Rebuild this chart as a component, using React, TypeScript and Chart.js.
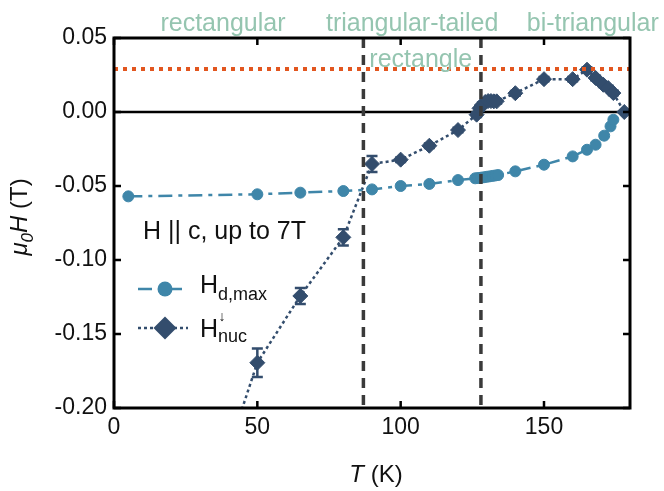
import React, { useEffect, useRef } from 'react';
import { Chart, registerables } from 'chart.js';
Chart.register(...registerables);

const FONT = '"Liberation Sans", Arial, Helvetica, sans-serif';

// H_d,max (light blue circles)
const hdT = [5, 50, 65, 80, 90, 100, 110, 120, 126, 127, 128, 129, 130, 131, 132, 133, 134, 140, 150, 160, 165, 168, 171, 173.2, 174.2];
const hdH = [-0.057, -0.0556, -0.0545, -0.0534, -0.0523, -0.05, -0.0486, -0.046, -0.0448, -0.0446, -0.0444, -0.0441, -0.0438, -0.0435, -0.0432, -0.0429, -0.0426, -0.0401, -0.0356, -0.03, -0.0255, -0.0221, -0.016, -0.0097, -0.0052];

// H_nuc (dark blue diamonds) with error bars
const nucT = [40, 50, 65, 80, 90, 100, 110, 120, 126.5, 127.5, 128.5, 129.5, 130.5, 131.5, 132.5, 133.5, 140, 150, 160, 165, 168, 170.7, 172.4, 174.2, 178];
const nucH = [-0.228, -0.1694, -0.1243, -0.0847, -0.0351, -0.0322, -0.0228, -0.0122, -0.0018, 0.0025, 0.005, 0.0068, 0.0074, 0.0074, 0.0072, 0.0072, 0.0127, 0.0222, 0.0222, 0.0286, 0.023, 0.0184, 0.0162, 0.0128, 0.0];
const nucErr = [0, 0.0096, 0.0054, 0.0055, 0.0054, 0.0015, 0.0015, 0.0015, 0.0015, 0.0015, 0.0015, 0.0015, 0.0015, 0.0015, 0.0015, 0.0015, 0.0015, 0.0015, 0.0015, 0.0015, 0.0015, 0.0015, 0.0015, 0.0015, 0];

const xTicks = [0, 50, 100, 150];
const yTicks = [-0.2, -0.15, -0.1, -0.05, 0, 0.05];
const phaseBoundariesT = [87, 128];
const thresholdH = [0.029];
const phaseLabels = ['rectangular', 'triangular-tailed', 'rectangle', 'bi-triangular'];
const phaseLabelT = [38, 104, 107, 167];

const HD = '#3f86a9';
const NUC = '#334d6d';
const GREEN = '#95c5b0';
const ORANGE = '#e2561f';
const DASHGREY = '#3a3a3a';

function drawRuns(ctx: CanvasRenderingContext2D, x: number, y: number, runs: { t: string; f: string; dy?: number }[]) {
  let cx = x;
  for (const r of runs) {
    ctx.font = r.f;
    ctx.fillText(r.t, cx, y + (r.dy || 0));
    cx += ctx.measureText(r.t).width;
  }
  return cx;
}
function runsWidth(ctx: CanvasRenderingContext2D, runs: { t: string; f: string }[]) {
  let w = 0;
  for (const r of runs) { ctx.font = r.f; w += ctx.measureText(r.t).width; }
  return w;
}

const customPlugin = {
  id: 'customDecor',
  beforeDatasetsDraw(chart: any) {
    const { ctx, chartArea: a, scales } = chart;
    const xs = scales.x, ys = scales.y;
    ctx.save();
    ctx.beginPath();
    ctx.rect(a.left, a.top, a.right - a.left, a.bottom - a.top);
    ctx.clip();
    // zero line
    ctx.strokeStyle = '#000';
    ctx.lineWidth = 2.5;
    ctx.beginPath();
    const y0 = ys.getPixelForValue(0);
    ctx.moveTo(a.left, y0); ctx.lineTo(a.right, y0); ctx.stroke();
    // error bars
    ctx.strokeStyle = NUC;
    ctx.lineWidth = 2.5;
    nucT.forEach((t, i) => {
      const e = nucErr[i];
      if (!e) return;
      const px = xs.getPixelForValue(t);
      const yt = ys.getPixelForValue(nucH[i] + e);
      const yb = ys.getPixelForValue(nucH[i] - e);
      ctx.beginPath();
      ctx.moveTo(px, yt); ctx.lineTo(px, yb);
      ctx.moveTo(px - 5.5, yt); ctx.lineTo(px + 5.5, yt);
      ctx.moveTo(px - 5.5, yb); ctx.lineTo(px + 5.5, yb);
      ctx.stroke();
    });
    ctx.restore();
  },
  afterDatasetsDraw(chart: any) {
    const { ctx, chartArea: a, scales } = chart;
    const xs = scales.x, ys = scales.y;
    ctx.save();
    ctx.beginPath();
    ctx.rect(a.left, a.top, a.right - a.left, a.bottom - a.top);
    ctx.clip();
    // vertical phase boundaries
    ctx.strokeStyle = DASHGREY;
    ctx.lineWidth = 3.5;
    ctx.setLineDash([10, 7]);
    phaseBoundariesT.forEach((t) => {
      const px = xs.getPixelForValue(t);
      ctx.beginPath(); ctx.moveTo(px, a.top); ctx.lineTo(px, a.bottom); ctx.stroke();
    });
    // threshold orange dotted
    ctx.strokeStyle = ORANGE;
    ctx.lineWidth = 4;
    ctx.setLineDash([4, 5]);
    thresholdH.forEach((h) => {
      const py = ys.getPixelForValue(h);
      ctx.beginPath(); ctx.moveTo(a.left, py); ctx.lineTo(a.right, py); ctx.stroke();
    });
    ctx.setLineDash([]);
    ctx.restore();

    ctx.save();
    // frame
    ctx.strokeStyle = '#000';
    ctx.lineWidth = 3;
    ctx.strokeRect(a.left, a.top, a.right - a.left, a.bottom - a.top);
    // inward ticks
    ctx.lineWidth = 2.5;
    const tl = 7;
    ctx.beginPath();
    xTicks.forEach((v) => {
      const px = xs.getPixelForValue(v);
      ctx.moveTo(px, a.bottom); ctx.lineTo(px, a.bottom - tl);
      ctx.moveTo(px, a.top); ctx.lineTo(px, a.top + tl);
    });
    yTicks.forEach((v) => {
      const py = ys.getPixelForValue(v);
      ctx.moveTo(a.left, py); ctx.lineTo(a.left + tl, py);
      ctx.moveTo(a.right, py); ctx.lineTo(a.right - tl, py);
    });
    ctx.stroke();

    // phase labels
    ctx.fillStyle = GREEN;
    ctx.font = `25px ${FONT}`;
    ctx.textAlign = 'center';
    ctx.textBaseline = 'alphabetic';
    phaseLabels.forEach((lab, i) => {
      const px = xs.getPixelForValue(phaseLabelT[i]);
      const py = lab === 'rectangle' ? a.top + 29 : a.top - 7;
      ctx.fillText(lab, px, py);
    });

    // in-plot legend
    ctx.textAlign = 'left';
    ctx.fillStyle = '#111';
    ctx.font = `25px ${FONT}`;
    ctx.textBaseline = 'alphabetic';
    ctx.fillText('H || c, up to 7T', a.left + 29, a.top + 201);

    const lx0 = a.left + 24, lx1 = a.left + 74, lmx = a.left + 51;
    const r1 = a.top + 251, r2 = a.top + 290;
    // row 1
    ctx.strokeStyle = HD; ctx.fillStyle = HD; ctx.lineWidth = 2.5;
    ctx.setLineDash([14, 6, 4, 6]);
    ctx.beginPath(); ctx.moveTo(lx0, r1); ctx.lineTo(lx1, r1); ctx.stroke();
    ctx.setLineDash([]);
    ctx.beginPath(); ctx.arc(lmx, r1, 7.5, 0, Math.PI * 2); ctx.fill();
    // row 2
    ctx.strokeStyle = NUC; ctx.fillStyle = NUC;
    ctx.setLineDash([3, 3]);
    ctx.beginPath(); ctx.moveTo(lx0, r2); ctx.lineTo(lx1, r2); ctx.stroke();
    ctx.setLineDash([]);
    ctx.beginPath();
    ctx.moveTo(lmx - 11.5, r2); ctx.lineTo(lmx, r2 - 11.5); ctx.lineTo(lmx + 11.5, r2); ctx.lineTo(lmx, r2 + 11.5); ctx.closePath(); ctx.fill();

    ctx.fillStyle = '#111';
    const tx = a.left + 86;
    drawRuns(ctx, tx, r1 + 4, [
      { t: 'H', f: `25px ${FONT}` },
      { t: 'd,max', f: `18px ${FONT}`, dy: 7 },
    ]);
    ctx.font = `25px ${FONT}`;
    ctx.fillText('H', tx, r2 + 9);
    const hw = ctx.measureText('H').width;
    ctx.font = `14px ${FONT}`;
    ctx.fillText('\u2193', tx + hw + 0.5, r2 - 7);
    ctx.font = `18px ${FONT}`;
    ctx.fillText('nuc', tx + hw, r2 + 14);

    // axis titles
    ctx.fillStyle = '#111';
    const xr = [
      { t: 'T', f: `italic 24px ${FONT}` },
      { t: ' (K)', f: `24px ${FONT}` },
    ];
    const xw = runsWidth(ctx, xr);
    ctx.textBaseline = 'middle';
    drawRuns(ctx, (a.left + a.right) / 2 + 4 - xw / 2, 475, xr);

    ctx.textBaseline = 'alphabetic';
    const yr = [
      { t: '\u03bc', f: `italic 24px ${FONT}` },
      { t: '0', f: `italic 17px ${FONT}`, dy: 6 },
      { t: 'H', f: `italic 24px ${FONT}` },
      { t: ' (T)', f: `24px ${FONT}` },
    ];
    const yw = runsWidth(ctx, yr);
    ctx.translate(27, 217);
    ctx.rotate(-Math.PI / 2);
    drawRuns(ctx, -yw / 2, 0, yr);
    ctx.restore();
  },
};

export default function App() {
  const ref = useRef<HTMLCanvasElement | null>(null);
  useEffect(() => {
    if (!ref.current) return;
    const chart = new Chart(ref.current, {
      type: 'scatter',
      data: {
        datasets: [
          {
            label: 'Hd,max',
            data: hdT.map((t, i) => ({ x: t, y: hdH[i] })),
            showLine: true,
            borderColor: HD,
            backgroundColor: HD,
            borderWidth: 2.5,
            borderDash: [14, 6, 4, 6],
            pointRadius: 5.5,
            pointBorderWidth: 1,
            pointBorderColor: HD,
            pointBackgroundColor: HD,
            pointStyle: 'circle',
          },
          {
            label: 'Hnuc',
            data: nucT.map((t, i) => ({ x: t, y: nucH[i] })),
            showLine: true,
            borderColor: NUC,
            backgroundColor: NUC,
            borderWidth: 2.5,
            borderDash: [3, 3],
            pointRadius: 7.5,
            pointBorderWidth: 1,
            pointBorderColor: NUC,
            pointBackgroundColor: NUC,
            pointStyle: 'rectRot',
          },
        ],
      },
      options: {
        animation: false,
        responsive: false,
        layout: { padding: { top: 38, right: 34, left: 0, bottom: 0 } },
        plugins: { legend: { display: false }, tooltip: { enabled: false } },
        scales: {
          x: {
            type: 'linear',
            min: 0,
            max: 180,
            grid: { display: false, drawTicks: false },
            border: { display: false },
            afterBuildTicks: (s: any) => { s.ticks = xTicks.map((v) => ({ value: v })); },
            afterFit: (s: any) => { s.height = 83; },
            ticks: { font: { family: FONT, size: 23 }, color: '#111', padding: 6, maxRotation: 0, autoSkip: false },
          },
          y: {
            type: 'linear',
            min: -0.2,
            max: 0.05,
            grid: { display: false, drawTicks: false },
            border: { display: false },
            afterBuildTicks: (s: any) => { s.ticks = yTicks.map((v) => ({ value: v })); },
            afterFit: (s: any) => { s.width = 114; },
            ticks: {
              font: { family: FONT, size: 23 },
              color: '#111',
              padding: 7,
              autoSkip: false,
              callback: (v: any) => Number(v).toFixed(2),
            },
          },
        },
      },
      plugins: [customPlugin],
    });
    return () => chart.destroy();
  }, []);
  return (
    <div style={{ position: 'fixed', left: 0, top: 0, width: 664, height: 491, background: '#fff' }}>
      <canvas ref={ref} width={664} height={491} style={{ display: 'block' }} />
    </div>
  );
}
